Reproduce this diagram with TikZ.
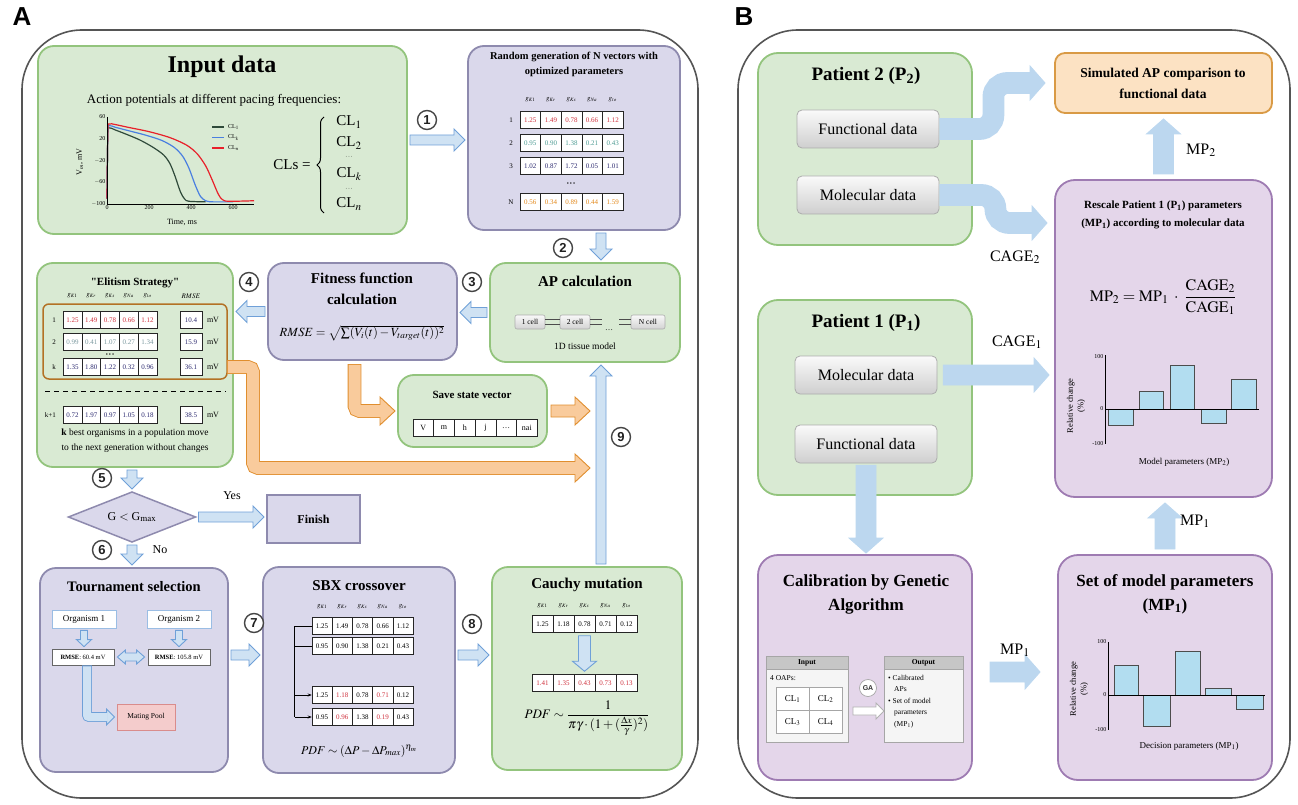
\documentclass[tikz,border=0pt]{standalone}
\usepackage{mathptmx}
\usepackage{fontspec}
\setmainfont{Liberation Serif}
\newfontfamily\lblfont{Liberation Sans}
\usepackage{xcolor}
\usetikzlibrary{arrows.meta,positioning,calc,shapes.geometric,decorations.pathreplacing}
\definecolor{gfill}{HTML}{D9EAD3}
\definecolor{gline}{HTML}{93C47D}
\definecolor{pfill}{HTML}{DAD8EB}
\definecolor{pline}{HTML}{8E8AAE}
\definecolor{vfill}{HTML}{E4D6EA}
\definecolor{vline}{HTML}{9E7BB2}
\definecolor{ofill}{HTML}{FCE2C3}
\definecolor{oline}{HTML}{D99A45}
\definecolor{afill}{HTML}{CFE2F3}
\definecolor{aline}{HTML}{6FA0D8}
\definecolor{bfill}{HTML}{BCD7EF}
\definecolor{orfill}{HTML}{F9CB9C}
\definecolor{orline}{HTML}{E08E2E}
\definecolor{tred}{HTML}{D0313D}
\definecolor{tteal}{HTML}{4E9C94}
\definecolor{tnavy}{HTML}{2C2A70}
\definecolor{torange}{HTML}{E3891B}
\definecolor{tgrey}{HTML}{7C9AA0}
\definecolor{cdark}{HTML}{2F4A3A}
\definecolor{cblue}{HTML}{4A7FE0}
\definecolor{cred}{HTML}{E8202A}
\definecolor{barfill}{HTML}{B2DDF0}
\definecolor{poolfill}{HTML}{F4CCCC}
\definecolor{poolline}{HTML}{D98C8C}
\definecolor{frameline}{HTML}{555555}

\newcommand\panelbox[6]{\node[#1,minimum width={(#5)-(#3)},minimum height={(#6)-(#4)}] (#2) at ({((#3)+(#5))/2},{((#4)+(#6))/2}) {};}
\newcommand\fatarrow[8]{%
  \path ($(#6)!#8pt!(#7)$) coordinate (fas) ($(#7)!#8pt!(#6)$) coordinate (fae);
  \path ($(fae)!#5pt!(fas)$) coordinate (fab);
  \filldraw[fill=#1,draw=#2,line width=0.9pt]
    ($(fas)!#3pt!90:(fae)$) -- ($(fab)!#3pt!-90:(fas)$) -- ($(fab)!#4pt!-90:(fas)$) -- (fae)
    -- ($(fab)!#4pt!90:(fas)$) -- ($(fab)!#3pt!90:(fas)$) -- ($(fas)!#3pt!-90:(fae)$) -- cycle;}
\newcommand\bentarrow[8][5]{%
  \path (#8) coordinate (bt) ($(bt)+(-#6,0)$) coordinate (bb);
  \draw[line width={2*#4+1.8},draw=#3,rounded corners=#1] #7 (bb);
  \filldraw[fill=#2,draw=#3,line width=0.9pt] ($(bb)+(0,-#5)$) -- (bt) -- ($(bb)+(0,#5)$) -- cycle;
  \draw[line width={2*#4},draw=#2,rounded corners=#1,shorten <=0.9pt] #7 ($(bb)+(1,0)$);}
\newcommand\arrA[2]{\fatarrow{afill}{aline}{5}{11}{11}{#1}{#2}{3}}
\newcommand\arrB[2]{\fatarrow{bfill}{bfill}{10}{17}{15}{#1}{#2}{6}}
\newcommand\tabrow[6]{\foreach \v [count=\i] in {#6} {\node[cell,minimum width=#4pt,text=#5] (#1-\i) at ({#2+(\i-0.5)*#4},#3) {\v};}}
\newcommand\tabhead[4]{\foreach \h [count=\i] in {K1,Kr,Ks,Na,to} {\node[hdr] (#1-\i) at ({#2+(\i-0.5)*#4},#3) {$g_{\h}$};}}

\begin{document}
\begin{tikzpicture}[x=1pt,y=-1pt,
  gbox/.style={draw=gline,fill=gfill,line width=1.8pt,rounded corners=16pt,inner sep=0pt,outer sep=0pt},
  pbox/.style={draw=pline,fill=pfill,line width=1.8pt,rounded corners=16pt,inner sep=0pt,outer sep=0pt},
  vbox/.style={draw=vline,fill=vfill,line width=1.8pt,rounded corners=20pt,inner sep=0pt,outer sep=0pt},
  obox/.style={draw=oline,fill=ofill,line width=1.8pt,rounded corners=10pt,inner sep=0pt,outer sep=0pt},
  panelframe/.style={draw=frameline,line width=1.6pt,rounded corners=60pt},
  lbl/.style={font=\lblfont\bfseries\fontsize{26}{26}\selectfont},
  num/.style={circle,draw=gray!55!black,line width=1.4pt,minimum size=19pt,inner sep=0pt,fill=white,font=\lblfont\bfseries\fontsize{13}{13}\selectfont,text=gray!25!black},
  ttl/.style={font=\bfseries\fontsize{#1}{#1}\selectfont,inner sep=0pt},
  ttl/.default=15,
  txt/.style={font=\fontsize{#1}{#1}\selectfont,inner sep=0pt},
  txt/.default=12,
  cell/.style={draw=black!85,line width=0.5pt,fill=white,inner sep=0pt,minimum height=17pt,font=\fontsize{7}{7}\selectfont},
  hdr/.style={font=\fontsize{7}{7}\selectfont,inner sep=0pt},
  gbtn/.style={draw=gray!65,line width=0.8pt,rounded corners=5pt,top color=gray!4,bottom color=gray!38,minimum width=142pt,minimum height=38pt,inner sep=0pt,font=\fontsize{16}{16}\selectfont},
  cbtn/.style={draw=gray!65,line width=0.6pt,rounded corners=2pt,top color=gray!5,bottom color=gray!35,minimum width=30pt,minimum height=14pt,inner sep=0pt,font=\fontsize{7.5}{7.5}\selectfont},
  wbox/.style={draw=#1,fill=white,line width=0.8pt,inner sep=0pt},
  barst/.style={draw=gray!60!black,line width=0.5pt,fill=barfill},
  ticklbl/.style={font=\fontsize{6}{6}\selectfont,inner sep=1.5pt},
  ]
\useasboundingbox (0,0) rectangle (1298,805);
\draw[panelframe] (22,30) rectangle (698,798);
\draw[panelframe] (738,30) rectangle (1290,798);
\node[lbl] (lblA) at (22,17) {A};
\node[lbl] (lblB) at (744,17) {B};
\coordinate (colx) at (601,0);
\coordinate (rowy) at (0,655);
\coordinate (otip1) at (590,468);
\coordinate (otip2) at (594,0);
\coordinate (c2tip) at (1047,223);
\coordinate (mpy) at (0,672);

\panelbox{gbox}{input}{38}{46}{407}{234}
\panelbox{pbox}{randgen}{468}{46}{680}{230}
\panelbox{gbox}{apcalc}{490}{263}{680}{362}
\panelbox{pbox}{fitness}{268}{263}{457}{360}
\panelbox{gbox}{elit}{37}{263}{233}{467}
\panelbox{gbox}{save}{398}{375}{547}{447}
\panelbox{pbox,rounded corners=0pt}{finish}{267}{495}{360}{543}
\panelbox{pbox}{tourn}{40}{568}{228}{772}
\panelbox{pbox}{sbx}{263}{567}{455}{773}
\panelbox{gbox}{cauchy}{492}{567}{682}{770}

\node[ttl=24] (inttl) at (222,67) {Input data};
\node[txt=13] (insub) at (214,100) {Action potentials at different pacing frequencies:};
\begin{scope}[shift={(107,204)},x=0.21pt,y=0.544pt]
  \draw[cdark,line width=1.2pt] plot[smooth] coordinates {(0,10)(4,128)(10,140)(40,136)(100,127)(160,117)(220,104)(270,90)(300,74)(325,50)(350,22)(370,9)(390,5)(470,4)};
  \draw[cblue,line width=1.2pt] plot[smooth] coordinates {(0,10)(4,132)(10,144)(40,141)(100,135)(180,127)(260,117)(320,104)(360,88)(390,66)(420,35)(445,14)(470,6)(500,4)(600,4)};
  \draw[cred,line width=1.2pt] plot[smooth] coordinates {(0,10)(4,134)(10,147)(40,146)(100,141)(200,133)(300,122)(380,108)(430,92)(470,70)(500,45)(530,18)(550,8)(580,5)(700,6)};
  \draw[line width=0.6pt] (0,160) -- (0,0) -- (700,0);
  \foreach \t in {0,200,400,600} {\node[ticklbl,below] (xt\t) at (\t,0) {\t};}
  \foreach \v/\l in {0/$-$100,40/$-$60,80/$-$20,120/20,160/60} {\node[ticklbl,left] (yt\v) at (0,\v) {\l};}
\end{scope}
\node[txt=8] (xlab) at (182,222) {Time, ms};
\node[txt=8,rotate=90] (ylab) at (80,162) {V$_m$, mV};
\foreach \c/\l/\y [count=\i] in {cdark/1/127,cblue/k/137.5,cred/n/148} {\draw[\c,line width=1.3pt] (212,\y) -- (224,\y); \node[txt=6,anchor=west] (leg\i) at (228,\y) {CL$_\l$};}
\node[txt=15] (clseq) at (292,165) {CLs =};
\draw[decorate,decoration={brace,amplitude=7pt},line width=1pt] (324,213) -- (324,117);
\foreach \l/\y [count=\i] in {CL$_1$/122,CL$_2$/143,CL$_k$/174,CL$_n$/204} {\node[txt=15] (cl\i) at (349,\y) {\l};}
\node[txt=7] (cldots1) at (349,157) {$\cdots$};
\node[txt=7] (cldots2) at (349,189) {$\cdots$};
\node[num] (n1) at (427,120) {1};
\arrA{input.east}{randgen.west |- input.east}

\node[ttl=10.5] (rgttl1) at (574,57) {Random generation of N vectors with};
\node[ttl=10.5] (rgttl2) at (574,72) {optimized parameters};
\tabhead{rh}{520}{100}{20.6}
\tabrow{ra}{520}{120}{20.6}{tred}{1.25,1.49,0.78,0.66,1.12}
\tabrow{rb}{520}{143}{20.6}{tteal}{0.95,0.90,1.38,0.21,0.43}
\tabrow{rc}{520}{166}{20.6}{tnavy}{1.02,0.87,1.72,0.05,1.01}
\tabrow{rn}{520}{202}{20.6}{torange}{0.56,0.34,0.89,0.44,1.59}
\foreach \l/\y [count=\i] in {1/120,2/143,3/166,N/202} {\node[hdr] (rl\i) at (511,\y) {\l};}
\node[txt=6] (rdots) at (571,184) {\textbullet\,\textbullet\,\textbullet};
\node[num] (n2) at (563,248) {2};
\arrA{randgen.south -| colx}{apcalc.north -| colx}

\node[ttl=15] (apttl) at (585,281) {AP calculation};
\node[cbtn] (cell1) at (530,322) {1 cell};
\node[cbtn] (cell2) at (575,322) {2 cell};
\node[cbtn,minimum width=34pt] (cellN) at (648,322) {N cell};
\draw[gray!60!black,line width=0.6pt] ([yshift=2.5pt]cell1.east) -- ([yshift=2.5pt]cell2.west) ([yshift=-2.5pt]cell1.east) -- ([yshift=-2.5pt]cell2.west)
  ([yshift=2.5pt]cell2.east) -- ++(12,0) ([yshift=-2.5pt]cell2.east) -- ++(12,0)
  ([yshift=2.5pt]cellN.west) -- ++(-12,0) ([yshift=-2.5pt]cellN.west) -- ++(-12,0);
\node[txt=8] (celldots) at (609,330) {\ldots};
\node[txt=9.5] (aptxt) at (585,346) {1D tissue model};
\node[num] (n3) at (472,282) {3};
\arrA{apcalc.west}{fitness.east |- apcalc.west}

\node[ttl=15] (fitttl1) at (362,278) {Fitness function};
\node[ttl=15] (fitttl2) at (362,299) {calculation};
\node[txt=12.5] (fitfml) at (362,333) {$RMSE=\sqrt{\sum(V_i(t)-V_{target}(t))^2}$};
\node[num] (n4) at (249,282) {4};
\arrA{fitness.west}{elit.east |- fitness.west}

\node[ttl=11] (elttl) at (135,283) {\textquotedbl Elitism Strategy\textquotedbl};
\panelbox{draw=orline!80!black,line width=1.5pt,rounded corners=6pt,inner sep=0pt,outer sep=0pt}{orect}{43}{304}{227}{379}
\tabhead{eh}{63}{296}{18.8}
\node[hdr] (ehr) at (191,296) {$RMSE$};
\tabrow{e1}{63}{320}{18.8}{tred}{1.25,1.49,0.78,0.66,1.12}
\tabrow{e2}{63}{342}{18.8}{tgrey}{0.99,0.41,1.07,0.27,1.34}
\tabrow{ek}{63}{367}{18.8}{tnavy}{1.35,1.80,1.22,0.32,0.96}
\tabrow{ek1}{63}{415}{18.8}{tnavy}{0.72,1.97,0.97,1.05,0.18}
\foreach \n/\l/\r/\y in {e1/1/10.4/320,e2/2/15.9/342,ek/k/36.1/367,ek1/k+1/38.5/415} {
  \node[hdr,anchor=east] (\n-l) at (56,\y) {\l};
  \node[cell,minimum width=22pt,text=tnavy] (\n-r) at (191,\y) {\r};
  \node[hdr,font=\fontsize{8}{8}\selectfont] (\n-u) at (213,\y) {mV};}
\node[txt=6] (edots) at (110,355) {\textbullet\,\textbullet\,\textbullet};
\draw[dashed,dash pattern=on 5pt off 4pt,line width=1pt] (45,391) -- (226,391);
\node[txt=9.5] (eltxt1) at (135,433) {\textbf{k} best organisms in a population move};
\node[txt=9.5] (eltxt2) at (135,448) {to the next generation without changes};

\node[ttl=11] (savettl) at (472,395) {Save state vector};
\foreach \l [count=\i] in {V,m,h,j,\ldots,nai} {\node[cell,minimum width=20.7pt,font=\fontsize{8}{8}\selectfont] (sv-\i) at ({413+(\i-0.5)*20.7},428) {\l};}
\bentarrow{orfill}{orline}{6}{14}{15}{([xshift=-8pt,yshift=-4pt]fitness.south) |-}{[xshift=-3pt]save.west}
\fatarrow{orfill}{orline}{6}{14}{15}{save.east}{otip2 |- save.east}{4}
\bentarrow{orfill}{orline}{6}{14}{15}{(orect.east |- ek-5) -- ++(26,0) |-}{otip1}
\node[num] (n9) at (621,437) {9};
\arrA{cauchy.north -| colx}{apcalc.south -| colx}

\node[num] (n5) at (102,478) {5};
\node[diamond,draw=pline,fill=pfill,line width=1.5pt,minimum width=127pt,minimum height=50pt,aspect=2.5,inner sep=0pt,outer sep=0pt,font=\fontsize{12}{12}\selectfont] (gd) at (132,517) {G $<$ G$_{\mathrm{max}}$};
\arrA{elit.south -| gd.north}{gd.north}
\node[txt=12] (yes) at (232,496) {Yes};
\node[ttl=12] (finishtxt) at (finish) {Finish};
\arrA{gd.east}{finish.west |- gd.east}
\node[num] (n6) at (102,550) {6};
\node[txt=12] (no) at (160,550) {No};
\arrA{gd.south}{tourn.north -| gd.south}

\node[ttl=14.5] (tourttl) at (134,587) {Tournament selection};
\node[wbox=aline!70,minimum width=64pt,minimum height=18pt,font=\fontsize{9}{9}\selectfont] (org1) at (84,619) {Organism 1};
\node[wbox=aline!70,minimum width=64pt,minimum height=18pt,font=\fontsize{9}{9}\selectfont] (org2) at (179,619) {Organism 2};
\node[wbox=black!60,minimum width=62pt,minimum height=16pt,font=\fontsize{6.5}{6.5}\selectfont] (rmse1) at (83,657) {\textbf{RMSE}: 60.4 mV};
\node[wbox=black!60,minimum width=62pt,minimum height=16pt,font=\fontsize{6.5}{6.5}\selectfont] (rmse2) at (179,657) {\textbf{RMSE}: 105.8 mV};
\fatarrow{afill}{aline}{3.5}{7.5}{7}{org1.south}{rmse1.north -| org1.south}{2}
\fatarrow{afill}{aline}{3.5}{7.5}{7}{org2.south}{rmse2.north -| org2.south}{2}
\path ($(rmse1.east)+(3,0)$) coordinate (dl) ($(rmse2.west)+(-3,0)$) coordinate (dr);
\filldraw[fill=afill,draw=aline,line width=0.9pt] (dl) -- ++(8,-7) -- ++(0,3) -- ($(dr)+(-8,-4)$) -- ++(0,-3) -- (dr) -- ++(-8,7) -- ++(0,-3) -- ($(dl)+(8,4)$) -- ++(0,3) -- cycle;
\node[draw=poolline,fill=poolfill,line width=0.8pt,minimum width=58pt,minimum height=26pt,inner sep=0pt,font=\fontsize{7.5}{7.5}\selectfont] (mating) at (146,717) {Mating Pool};
\bentarrow[2]{afill}{aline}{4}{8}{8}{([xshift=4pt]rmse1.south) |-}{[xshift=-2pt]mating.west}
\node[num] (n7) at (254,623) {7};
\arrA{tourn.east |- rowy}{sbx.west |- rowy}

\node[ttl=15] (sbxttl) at (359,586) {SBX crossover};
\tabhead{sh}{312}{607}{20.2}
\tabrow{s1}{312}{626}{20.2}{black}{1.25,1.49,0.78,0.66,1.12}
\tabrow{s2}{312}{646}{20.2}{black}{0.95,0.90,1.38,0.21,0.43}
\tabrow{s3}{312}{695}{20.2}{black}{1.25,{\textcolor{tred}{1.18}},0.78,{\textcolor{tred}{0.71}},0.12}
\tabrow{s4}{312}{717}{20.2}{black}{0.95,{\textcolor{tred}{0.96}},1.38,{\textcolor{tred}{0.19}},0.43}
\draw[line width=0.6pt] (s1-1.west) -| ([xshift=-17pt]s4-1.west);
\draw[line width=0.6pt] (s2-1.west) -- ++(-17,0);
\draw[line width=0.6pt,-{Stealth[length=4pt]}] ([xshift=-17pt]s3-1.west) -- (s3-1.west);
\draw[line width=0.6pt,-{Stealth[length=4pt]}] ([xshift=-17pt]s4-1.west) -- (s4-1.west);
\node[txt=12] (sbxfml) at (359,751) {$PDF\sim(\Delta P-\Delta P_{max})^{\eta_m}$};
\node[num] (n8) at (472,624) {8};
\arrA{sbx.east |- rowy}{cauchy.west |- rowy}

\node[ttl=15] (cauttl) at (587,585) {Cauchy mutation};
\tabhead{ch}{532}{606}{21}
\tabrow{m1}{532}{624}{21}{black}{1.25,1.18,0.78,0.71,0.12}
\tabrow{m2}{532}{683}{21}{tred}{1.41,1.35,0.43,0.73,0.13}
\fatarrow{afill}{aline}{6}{12}{10}{m1-3.south}{m2-3.north}{3}
\node[txt=13] (caufml) at (587,718) {$PDF\sim\displaystyle\frac{1}{\pi\gamma\cdot(1+(\frac{\Delta x}{\gamma})^2)}$};

\panelbox{gbox,rounded corners=20pt}{pat2}{758}{53}{972}{245}
\node[ttl=19] (p2ttl) at (866,76) {Patient 2 (P\textsubscript{2})};
\node[gbtn] (func2) at (868,129) {Functional data};
\node[gbtn] (mol2) at (868,195) {Molecular data};
\panelbox{obox}{sim}{1055}{53}{1272}{113}
\node[ttl=13.5] (simttl1) at (1163,74) {Simulated AP comparison to};
\node[ttl=13.5] (simttl2) at (1163,94) {functional data};
\panelbox{vbox}{rescale}{1055}{180}{1272}{497}
\node[ttl=11] (rsttl1) at (1163,206) {Rescale Patient 1 (P\textsubscript{1}) parameters};
\node[ttl=11] (rsttl2) at (1163,224) {(MP\textsubscript{1}) according to molecular data};
\node[txt=16] (rsfml) at (1163,297) {$\mathrm{MP}_2=\mathrm{MP}_1\;\cdot\;\displaystyle\frac{\mathrm{CAGE}_2}{\mathrm{CAGE}_1}$};
\draw[line width=0.6pt] (1105,355) -- (1105,444);
\foreach \a/\b/\t in {1108/1133/425,1139/1163/391,1170/1194/365,1201/1226/423,1231/1256/379} {\draw[barst] (\a,409) rectangle (\b,\t);}
\draw[line width=0.7pt] (1105,409) -- (1259,409);
\node[ticklbl,anchor=east] (rs100) at (1105,357) {100};
\node[ticklbl,anchor=east] (rs0) at (1105,409) {0};
\node[ticklbl,anchor=east] (rsm100) at (1105,444) {-100};
\node[txt=8.5,rotate=90,align=center] (rsylab) at (1076,406) {Relative change\\[2pt](\%)};
\node[txt=9] (rsxlab) at (1184,462) {Model parameters (MP$_2$)};

\panelbox{gbox,rounded corners=20pt}{pat1}{758}{300}{972}{495}
\node[ttl=19] (p1ttl) at (866,323) {Patient 1 (P\textsubscript{1})};
\node[gbtn] (mol1) at (866,375) {Molecular data};
\node[gbtn] (func1) at (866,444) {Functional data};
\panelbox{vbox}{calib}{758}{555}{972}{780}
\node[ttl=17] (cbttl1) at (866,582) {Calibration by Genetic};
\node[ttl=17] (cbttl2) at (866,606) {Algorithm};
\panelbox{vbox}{setmp}{1058}{555}{1272}{780}
\node[ttl=17] (smttl1) at (1165,582) {Set of model parameters};
\node[ttl=17] (smttl2) at (1165,606) {(MP\textsubscript{1})};

\panelbox{draw=gray!70,fill=gray!8,line width=0.7pt,inner sep=0pt,outer sep=0pt}{inbox}{766}{656}{848}{742}
\panelbox{draw=gray!70,fill=gray!45,line width=0.7pt,inner sep=0pt,outer sep=0pt}{inhead}{766}{656}{848}{669}
\node[ttl=7.5] (inheadtxt) at (inhead) {Input};
\node[txt=7.5,anchor=west] (oaps) at (770,678) {4 OAPs:};
\foreach \l/\x/\y in {1/792.5/699,2/825.5/699,3/792.5/722,4/825.5/722} {\node[draw=gray!70,fill=white,line width=0.6pt,minimum width=33pt,minimum height=23pt,inner sep=0pt,font=\fontsize{9}{9}\selectfont] (clc\l) at (\x,\y) {CL$_\l$};}
\node[circle,draw=gray!70,fill=white,line width=0.7pt,minimum size=17pt,inner sep=0pt,font=\lblfont\bfseries\fontsize{7}{7}\selectfont,text=gray!40!black] (ga) at (868,688) {GA};
\path (853,711) coordinate (gas) (884,711) coordinate (gae);
\fatarrow{white}{gray!60}{4}{8}{8}{gas}{gae}{0}
\panelbox{draw=gray!70,fill=gray!8,line width=0.7pt,inner sep=0pt,outer sep=0pt}{outbox}{884}{656}{963}{742}
\panelbox{draw=gray!70,fill=gray!45,line width=0.7pt,inner sep=0pt,outer sep=0pt}{outhead}{884}{656}{963}{669}
\node[ttl=7.5] (outheadtxt) at (outhead) {Output};
\node[font=\fontsize{7.5}{11.5}\selectfont,align=left,anchor=north west,inner sep=0pt] (outtxt) at (888,675) {\textbullet\ Calibrated\\\hspace*{6pt}APs\\\textbullet\ Set of model\\\hspace*{6pt}parameters\\\hspace*{6pt}(MP$_1$)};

\draw[line width=0.6pt] (1108,642) -- (1108,730);
\foreach \a/\b/\t in {1114/1138/665,1143/1170/726,1175/1200/651,1205/1231/688,1236/1263/709} {\draw[barst] (\a,695) rectangle (\b,\t);}
\draw[line width=0.7pt] (1108,695) -- (1265,695);
\node[ticklbl,anchor=east] (sm100) at (1108,642) {100};
\node[ticklbl,anchor=east] (sm0) at (1108,695) {0};
\node[ticklbl,anchor=east] (smm100) at (1108,730) {-100};
\node[txt=8.5,rotate=90,align=center] (smylab) at (1079,689) {Relative change\\[2pt](\%)};
\node[txt=9] (smxlab) at (1189,746) {Decision parameters (MP$_1$)};

\bentarrow[14]{bfill}{bfill}{10}{17}{15}{(func2.east) -- ++(54,0) |-}{[xshift=-10pt]sim.west}
\bentarrow[14]{bfill}{bfill}{10}{17}{15}{(mol2.east) -- ++(56,0) |-}{c2tip}
\arrB{mol1.east}{rescale.west |- mol1.east}
\fatarrow{bfill}{bfill}{10}{17}{15}{func1.south}{calib.north -| func1.south}{2}
\fatarrow{bfill}{bfill}{10}{17}{15}{calib.east |- mpy}{setmp.west |- mpy}{18}
\arrB{setmp.north}{rescale.south -| setmp.north}
\arrB{rescale.north}{sim.south -| rescale.north}
\node[txt=16] (cage2) at (1015,257) {CAGE$_2$};
\node[txt=16] (cage1) at (1017,342) {CAGE$_1$};
\node[txt=16] (mp2lab) at (1201,150) {MP$_2$};
\node[txt=16] (mp1lab) at (1015,650) {MP$_1$};
\node[txt=16] (mp1labup) at (1195,521) {MP$_1$};
\end{tikzpicture}
\end{document}
